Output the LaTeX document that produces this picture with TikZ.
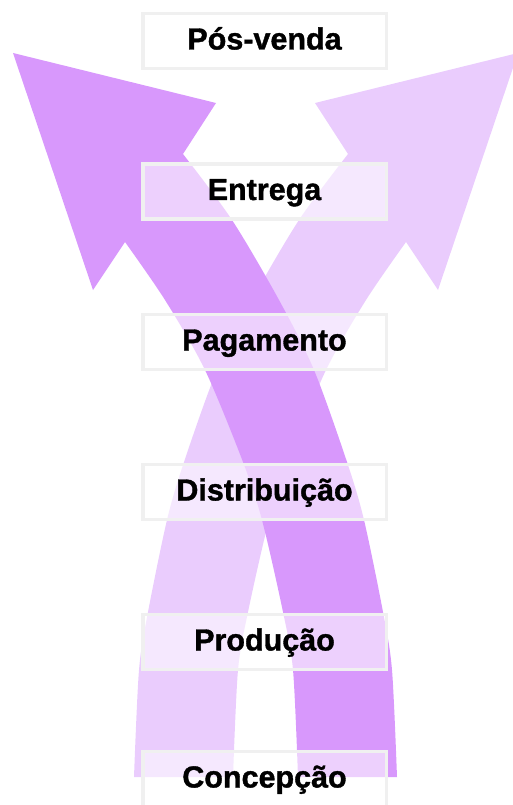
\documentclass[tikz,border=0pt]{standalone}
\usepackage{fontspec}
\setmainfont{Liberation Sans}
\newfontfamily\labelfont{Liberation Sans Bold}[FakeBold=1.2]
\definecolor{darkarrow}{RGB}{216,152,252}
\definecolor{lightarrow}{RGB}{234,204,253}
\definecolor{boxline}{RGB}{240,240,240}
\begin{document}
\begin{tikzpicture}[x=1pt,y=-1pt,
  stagebox/.style={draw=boxline, line width=3.5pt, fill=white, fill opacity=0.55,
    text opacity=1, draw opacity=1, minimum width=243.5pt, minimum height=55pt,
    inner sep=0pt, text height=22pt, text depth=5pt,
    font=\fontsize{30.5}{36}\labelfont}]
\useasboundingbox (0,0) rectangle (513,805);
\clip (0,0) rectangle (513,805);
% light arrow (mirror image of the dark one)
\begin{scope}[shift={(531,0)}, xscale=-1]
\fill[lightarrow] (13,53) -- (216,103) -- (183,154)
  -- plot[smooth] coordinates {(183,154) (232,220) (279,300) (314,370) (347,462) (364,520) (383,612) (392,670) (397,777)}
  -- (298,777)
  -- plot[smooth] coordinates {(298,777) (293,670) (283,612) (262,520) (243,462) (205,370) (165,300) (125,242)}
  -- (93,290) -- cycle;
\end{scope}
% dark arrow
\fill[darkarrow] (13,53) -- (216,103) -- (183,154)
  -- plot[smooth] coordinates {(183,154) (232,220) (279,300) (314,370) (347,462) (364,520) (383,612) (392,670) (397,777)}
  -- (298,777)
  -- plot[smooth] coordinates {(298,777) (293,670) (283,612) (262,520) (243,462) (205,370) (165,300) (125,242)}
  -- (93,290) -- cycle;
% stage boxes
\node[stagebox] (posvenda) at (264.5,41) {Pós-venda};
\node[stagebox] (entrega) at (264.5,191.5) {Entrega};
\node[stagebox] (pagamento) at (264.5,342) {Pagamento};
\node[stagebox] (distribuicao) at (264.5,492) {Distribuição};
\node[stagebox] (producao) at (264.5,642) {Produção};
\node[stagebox] (concepcao) at (264.5,779) {Concepção};
\end{tikzpicture}
\end{document}
